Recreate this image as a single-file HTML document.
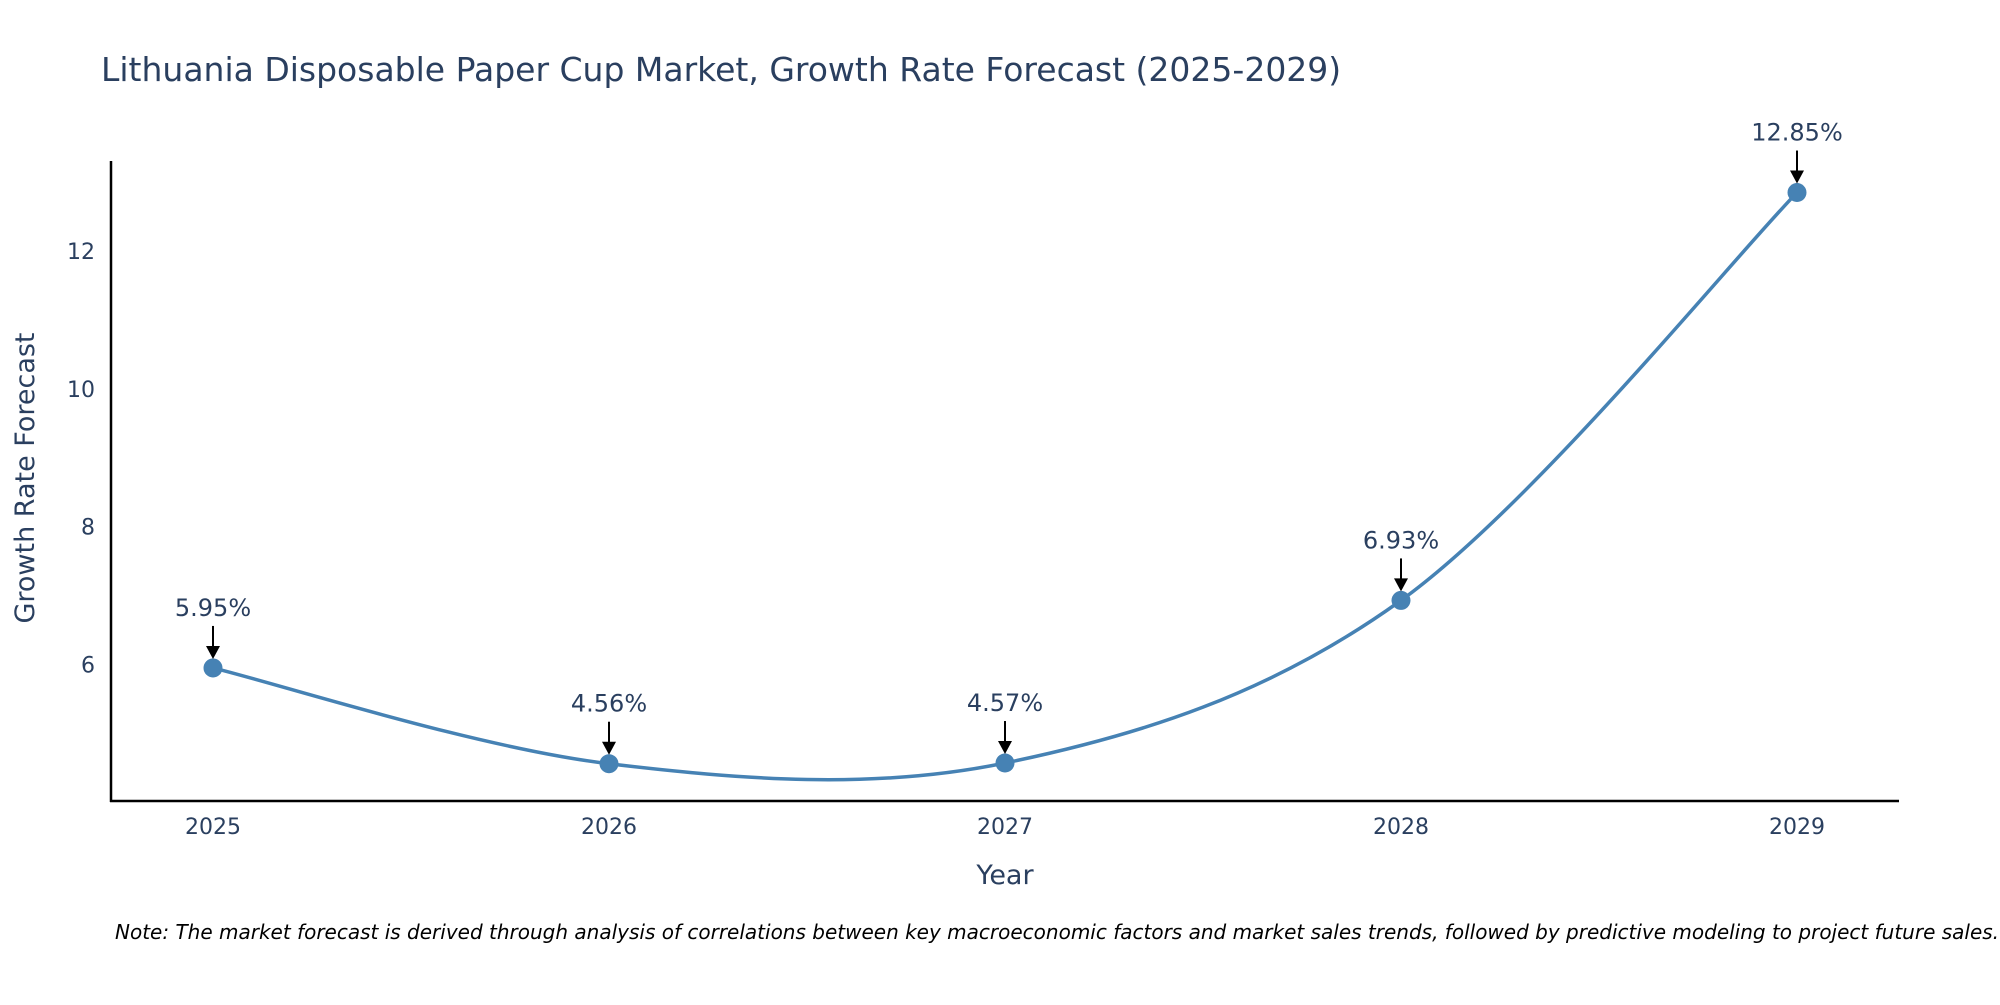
<!DOCTYPE html>
<html><head><meta charset="utf-8"><style>
body{margin:0;background:#fff;}
svg text{font-family:"DejaVu Sans","Liberation Sans",sans-serif;}
</style></head><body>
<svg id="chart" width="2000" height="1000" xmlns="http://www.w3.org/2000/svg">
<rect width="2000" height="1000" fill="#fff"/>
<text x="101" y="81" font-size="33" fill="#2a3f5f">Lithuania Disposable Paper Cup Market, Growth Rate Forecast (2025-2029)</text>
<g id="plot"></g>
<line x1="111" y1="161" x2="111" y2="802" stroke="#000" stroke-width="2.5"/>
<line x1="110" y1="801" x2="1899" y2="801" stroke="#000" stroke-width="2.5"/>
<text x="1005" y="884" font-size="27" fill="#2a3f5f" text-anchor="middle">Year</text>
<text x="0" y="0" font-size="27" fill="#2a3f5f" text-anchor="middle" transform="translate(34,478) rotate(-90)">Growth Rate Forecast</text>
<text x="115" y="939" font-size="20" font-style="italic" fill="#000">Note: The market forecast is derived through analysis of correlations between key macroeconomic factors and market sales trends, followed by predictive modeling to project future sales.</text>
</svg>
<script>
const years = ["2025","2026","2027","2028","2029"];
const growth = [5.95, 4.56, 4.57, 6.93, 12.85];
const labels = ["5.95%","4.56%","4.57%","6.93%","12.85%"];
const yTicks = [6, 8, 10, 12];

const NS="http://www.w3.org/2000/svg";
const g=document.getElementById('plot');
function xs(i){return 213+i*396;}
function ys(v){return 664.5-(v-6)*68.9;}
function mk(t,a){const e=document.createElementNS(NS,t);for(const k in a)e.setAttribute(k,a[k]);return e;}

yTicks.forEach(v=>{
  const t=mk('text',{x:95,y:ys(v)+8,'font-size':22,fill:'#2a3f5f','text-anchor':'end'});
  
  
  t.textContent=v;g.appendChild(t);
});
years.forEach((y,i)=>{
  const t=mk('text',{x:xs(i),y:834,'font-size':22,fill:'#2a3f5f','text-anchor':'middle'});
  
  
  t.textContent=y;g.appendChild(t);
});

const P=growth.map((v,i)=>[xs(i),ys(v)]);
let d=`M${P[0][0]},${P[0][1]}`;
for(let i=0;i<P.length-1;i++){
  const p0=P[i-1]||P[i],p1=P[i],p2=P[i+1],p3=P[i+2]||P[i+1];
  const c1=[p1[0]+(p2[0]-p0[0])/6,p1[1]+(p2[1]-p0[1])/6];
  const c2=[p2[0]-(p3[0]-p1[0])/6,p2[1]-(p3[1]-p1[1])/6];
  d+=` C${c1[0]},${c1[1]} ${c2[0]},${c2[1]} ${p2[0]},${p2[1]}`;
}
const line=mk('path',{d:d,fill:'none',stroke:'#4682b4','stroke-width':3.5});


g.appendChild(line);

P.forEach((p,i)=>{
  const c=mk('circle',{cx:p[0],cy:p[1],r:9.5,fill:'#4682b4'});
  
  
  g.appendChild(c);
  const a=mk('line',{x1:p[0],y1:p[1]-42,x2:p[0],y2:p[1]-20,stroke:'#000','stroke-width':2});
  
  
  g.appendChild(a);
  const h=mk('path',{d:`M${p[0]-7},${p[1]-22} L${p[0]+7},${p[1]-22} L${p[0]},${p[1]-9} Z`,fill:'#000'});
  
  
  g.appendChild(h);
  const t=mk('text',{x:p[0],y:p[1]-52,'font-size':24,fill:'#2a3f5f','text-anchor':'middle'});
  
  
  t.textContent=labels[i];g.appendChild(t);
});
</script>
</body></html>
